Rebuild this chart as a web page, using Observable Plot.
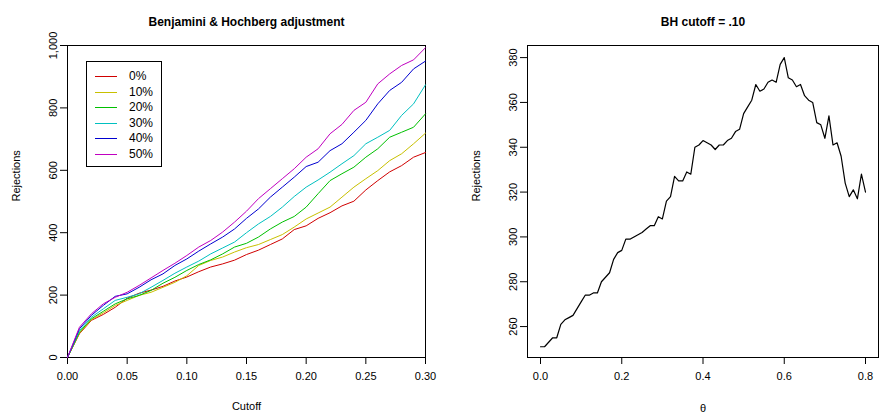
<!DOCTYPE html>
<html><head><meta charset="utf-8">
<script src="https://cdn.jsdelivr.net/npm/d3@7"></script>
<script src="https://cdn.jsdelivr.net/npm/@observablehq/plot@0.6"></script>
<style>
body{margin:0;background:#fff;font-family:"Liberation Sans",Arial,sans-serif}
#wrap{position:relative;width:879px;height:420px}
#left,#right{position:absolute;top:0}
#left{left:0}#right{left:440px}
#legend{position:absolute;left:86px;top:61px;width:74px;height:104px;border:1px solid #000;background:#fff;font-size:12px}
#legend div{position:absolute;left:8px;height:16px;line-height:16px}
#legend span{display:inline-block;width:22px;height:0;border-top:1px solid;vertical-align:middle;margin-right:12px}
</style></head><body>
<div id="wrap"><div id="left"></div><div id="right"></div><div id="legend"></div></div>
<script>
const cutoff = [0,0.01,0.02,0.03,0.04,0.05,0.06,0.07,0.08,0.09,0.10,0.11,0.12,0.13,0.14,0.15,0.16,0.17,0.18,0.19,0.20,0.21,0.22,0.23,0.24,0.25,0.26,0.27,0.28,0.29,0.30];
const seriesNames = ["0%","10%","20%","30%","40%","50%"];
const seriesColors = ["#D00000","#C8C000","#00C000","#00C0C0","#0000D0","#C000C0"];
const rej0  = [0,76,119,138,161,190,206,216,228,245,258,275,290,300,312,330,344,362,380,410,422,446,464,486,501,537,567,595,615,642,657];
const rej10 = [0,78,121,143,167,183,199,209,225,241,262,295,311,322,338,352,362,378,394,418,444,463,482,514,546,573,599,631,653,685,719];
const rej20 = [0,81,124,148,172,188,199,215,238,257,279,298,313,332,354,366,386,412,434,452,482,525,567,589,610,642,669,706,722,738,781];
const rej30 = [0,86,129,156,183,193,204,225,247,270,290,309,332,351,370,400,428,452,482,516,546,569,594,621,647,685,706,728,776,813,874];
const rej40 = [0,92,135,167,196,204,225,249,268,295,316,341,364,386,412,446,476,514,546,578,612,626,663,685,722,760,813,856,882,925,950];
const rej50 = [0,97,140,172,193,209,231,255,279,302,327,354,375,402,434,469,509,541,573,605,642,669,717,747,792,818,877,909,936,954,993];
const theta = d3.range(81).map(i => i / 100);
const bhRej = [251,251,253,255,255,261,263,264,265,268,271,274,274,275,275,280,282,284,290,293,294,299,299,300,301,302,303.5,305,305,309,308,316,318,327,325,325,329,328,340,341,343,342,341,339,341,341,343,344,347,348,355,358,361,368,365,366,369,370,369,377,380,371,370,367,368,363,361,360,351,350,344,354,341,342,336,324,318,321,317,328,320];
const leftYTicks = [0,200,400,600,800,1000];
const rightYTicks = [260,280,300,320,340,360,380];

const allRej = [rej0, rej10, rej20, rej30, rej40, rej50];
const rows = allRej.flatMap((arr, s) => arr.map((v, i) => ({x: cutoff[i], y: v, s: seriesNames[s]})));
const font = {fontFamily: '"Liberation Sans", Arial, sans-serif', fontSize: "11px", background: "transparent", color: "#000"};

const left = Plot.plot({
  width: 440, height: 420,
  marginLeft: 67, marginRight: 15, marginTop: 45, marginBottom: 63,
  style: font,
  x: {domain: [0, 0.3]},
  y: {domain: [0, 1000]},
  color: {domain: seriesNames, range: seriesColors},
  marks: [
    Plot.frame({stroke: "#000"}),
    Plot.axisX({ticks: [0,0.05,0.1,0.15,0.2,0.25,0.3], tickFormat: d3.format(".2f"), tickSize: 7, tickPadding: 8, label: null}),
    Plot.axisY({ticks: leftYTicks, tickSize: 7, tickRotate: -90, tickPadding: 4, label: null}),
    Plot.line(rows, {x: "x", y: "y", z: "s", stroke: "s", strokeWidth: 1}),
    Plot.text(["Benjamini & Hochberg adjustment"], {frameAnchor: "top", dy: -28, fontWeight: "bold", fontSize: 12}),
    Plot.text(["Cutoff"], {frameAnchor: "bottom", dy: 52}),
    Plot.text(["Rejections"], {frameAnchor: "left", dx: -51, rotate: -90})
  ]
});
document.getElementById("left").append(left);

const right = Plot.plot({
  width: 439, height: 420,
  marginLeft: 87, marginRight: 1, marginTop: 45, marginBottom: 63,
  style: font,
  x: {domain: [-0.032, 0.832]},
  y: {domain: [246.2, 385.4]},
  marks: [
    Plot.frame({stroke: "#000"}),
    Plot.axisX({ticks: [0,0.2,0.4,0.6,0.8], tickFormat: d3.format(".1f"), tickSize: 7, tickPadding: 8, label: null}),
    Plot.axisY({ticks: rightYTicks, tickSize: 7, tickRotate: -90, tickPadding: 4, label: null}),
    Plot.line(theta.map((t, i) => ({t, r: bhRej[i]})), {x: "t", y: "r", stroke: "#000", strokeWidth: 1.2}),
    Plot.text(["BH cutoff = .10"], {frameAnchor: "top", dy: -28, fontWeight: "bold", fontSize: 12}),
    Plot.text(["θ"], {frameAnchor: "bottom", dy: 54}),
    Plot.text(["Rejections"], {frameAnchor: "left", dx: -51, rotate: -90})
  ]
});
document.getElementById("right").append(right);

const lg = document.getElementById("legend");
seriesNames.forEach((n, i) => {
  const d = document.createElement("div");
  d.style.top = (6 + i * 15.5) + "px";
  d.innerHTML = `<span style="border-color:${seriesColors[i]}"></span>${n}`;
  lg.append(d);
});
</script></body></html>
